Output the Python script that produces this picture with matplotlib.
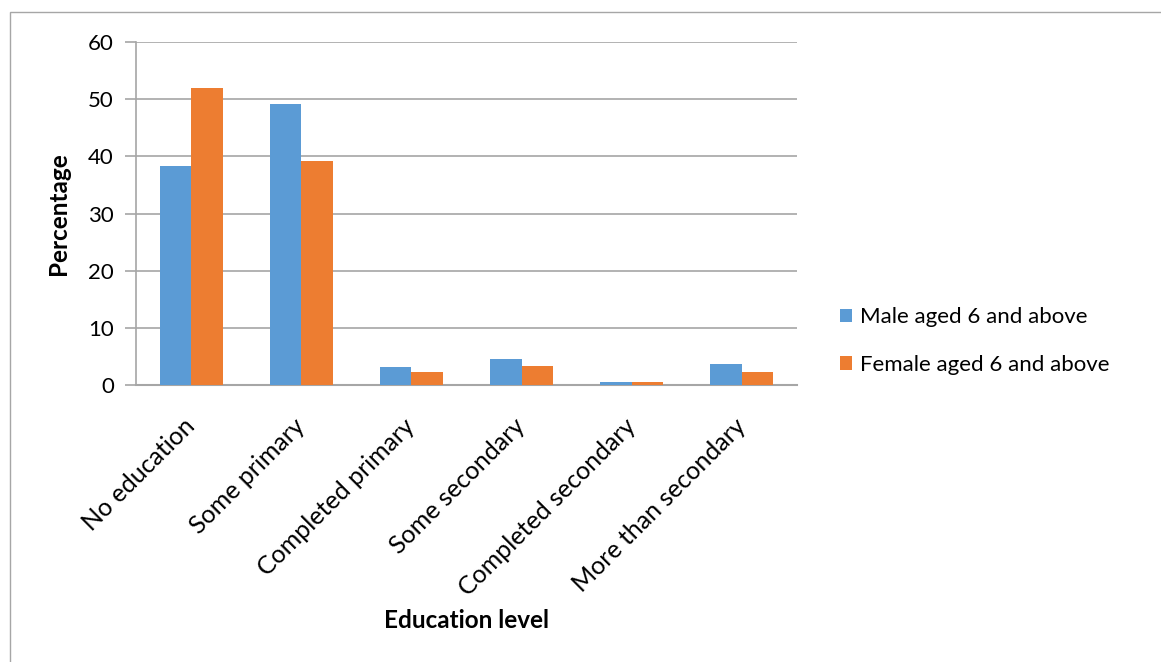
import matplotlib
matplotlib.use("Agg")
import matplotlib.pyplot as plt
import numpy as np
from matplotlib.patches import Rectangle

categories = ["No education", "Some primary", "Completed primary",
              "Some secondary", "Completed secondary", "More than secondary"]
male = [38.3, 49.2, 3.1, 4.5, 0.5, 3.6]
female = [52.0, 39.1, 2.2, 3.4, 0.5, 2.2]
series_names = ["Male aged 6 and above", "Female aged 6 and above"]
yticks = [0, 10, 20, 30, 40, 50, 60]

plt.rcParams['font.family'] = ['Lato', 'DejaVu Sans']

W, H = 1161, 662
fig = plt.figure(figsize=(W/100, H/100), dpi=100)
ax = fig.add_axes([136/W, 1-385/H, (797-136)/W, (385-42)/H])

x = np.arange(len(categories))
bw = 0.286
c_m = "#5B9BD5"
c_f = "#ED7D31"
ax.bar(x - bw/2, male, bw, color=c_m, label=series_names[0], zorder=3)
ax.bar(x + bw/2, female, bw, color=c_f, label=series_names[1], zorder=3)

ax.set_xlim(-0.5, len(categories) - 0.5)
ax.set_ylim(0, 60)
ax.set_yticks(yticks)
ax.yaxis.grid(True, color="#A6A6A6", linewidth=1.2, zorder=0)
for s in ["top", "right"]:
    ax.spines[s].set_visible(False)
ax.spines["left"].set_color("#A6A6A6")
ax.spines["bottom"].set_color("#A6A6A6")
ax.spines["left"].set_linewidth(1.2)
ax.spines["bottom"].set_linewidth(1.5)
ax.tick_params(axis="y", length=8, width=1.2, color="#A6A6A6", labelsize=16, pad=8)
ax.tick_params(axis="x", length=0, labelsize=18, pad=27)
ax.set_xticks(x)
ax.set_xticklabels(categories, rotation=45, ha="right", va="center",
                   rotation_mode="anchor")
ax.set_ylabel("Percentage", fontsize=17.5, fontweight="bold")
ax.set_xlabel("Education level", fontsize=17.5, fontweight="bold")
ax.yaxis.set_label_coords(-0.1165, 0.5)
ax.yaxis.label.set_va("center")
ax.xaxis.set_label_coords(0.5, -0.688)
ax.xaxis.label.set_va("center")

leg = ax.legend(loc="center left", bbox_to_anchor=(820/W, 1-341/H),
                bbox_transform=fig.transFigure, frameon=False, fontsize=16,
                handlelength=0.55, handleheight=0.55, handletextpad=0.35,
                labelspacing=1.25)

fig.patches.append(Rectangle((10/W, -0.1), 1.2, 1-12/H+0.1, transform=fig.transFigure,
                             fill=False, edgecolor="#A6A6A6", linewidth=1.0))

fig.savefig("out.png", dpi=100)
